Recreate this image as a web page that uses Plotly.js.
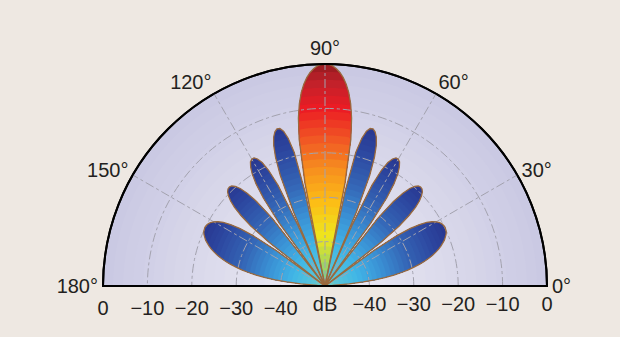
<!DOCTYPE html>
<html>
<head>
<meta charset="utf-8">
<script src="https://cdn.plot.ly/plotly-3.0.1.min.js"></script>
<style>
  html, body { margin: 0; padding: 0; background: #eee8e2; }
  #chart { width: 620px; height: 337px; }
</style>
</head>
<body>
<div id="chart"></div>
<script>
// ---- data (array pattern, dB, floor -50) ----
const thetaDeg = [
  0,1,2,3,4,5,6,7,8,9,10,11,12,13,14,15,16,17,18,19,20,21,22,23,24,25,26,27,28,29,30,31,32,33,34,35,36,36.9,
  38,39,40,41,42,43,44,45,46,47,48,49,50,51,52,53.1,
  54,55,56,57,58,59,60,61,62,63,64,65,66,66.4,
  67,68,69,70,71,72,73,74,75,76,77,78,78.5,
  79,80,81,82,83,84,85,86,87,88,89,90,91,92,93,94,95,96,97,98,99,100,101,101.5,
  102,103,104,105,106,107,108,109,110,111,112,113,113.6,
  114,115,116,117,118,119,120,121,122,123,124,125,126,126.9,
  128,129,130,131,132,133,134,135,136,137,138,139,140,141,142,143.1,
  144,145,146,147,148,149,150,151,152,153,154,155,156,157,158,159,160,161,162,163,164,165,166,167,168,169,170,171,172,173,174,175,176,177,178,179,180
];
const gainDb = [
  -50,-50,-50,-50,-48.3,-44.5,-41.3,-38.7,-36.4,-34.3,-32.5,-30.9,-29.5,-28.1,-26.9,-25.8,-24.8,-23.9,-23.1,-22.4,-21.8,-21.2,-20.8,-20.4,-20.1,-20.0,-19.9,-20.0,-20.2,-20.5,-21.1,-21.9,-23.0,-24.6,-26.8,-30.2,-36.6,-50,
  -34.1,-28.5,-25.3,-23.0,-21.4,-20.3,-19.5,-19.1,-19.0,-19.2,-19.8,-20.9,-22.7,-25.5,-30.6,-50,
  -32.4,-25.8,-22.2,-19.9,-18.4,-17.4,-17.0,-17.0,-17.6,-18.8,-21.0,-25.0,-35.0,-50,
  -32.0,-23.1,-18.9,-16.2,-14.5,-13.5,-13.0,-13.1,-13.9,-15.7,-19.1,-28.3,-50,
  -26.3,-16.5,-11.7,-8.5,-6.1,-4.3,-2.9,-1.8,-1.0,-0.4,-0.1,0,-0.1,-0.4,-1.0,-1.8,-2.9,-4.3,-6.1,-8.5,-11.7,-16.5,-26.3,-50,
  -28.3,-19.1,-15.7,-13.9,-13.1,-13.0,-13.5,-14.5,-16.2,-18.9,-23.1,-32.0,-50,
  -35.0,-25.0,-21.0,-18.8,-17.6,-17.0,-17.0,-17.4,-18.4,-19.9,-22.2,-25.8,-32.4,-50,
  -30.6,-25.5,-22.7,-20.9,-19.8,-19.2,-19.0,-19.1,-19.5,-20.3,-21.4,-23.0,-25.3,-28.5,-34.1,-50,
  -36.6,-30.2,-26.8,-24.6,-23.0,-21.9,-21.1,-20.5,-20.2,-20.0,-19.9,-20.0,-20.1,-20.4,-20.8,-21.2,-21.8,-22.4,-23.1,-23.9,-24.8,-25.8,-26.9,-28.1,-29.5,-30.9,-32.5,-34.3,-36.4,-38.7,-41.3,-44.5,-48.3,-50,-50,-50,-50
];
const nullAngles = [0, 36.9, 53.1, 66.4, 78.5, 101.5, 113.6, 126.9, 143.1, 180];
const radialTicks = [-50, -40, -30, -20, -10, 0];
const radialTickTextRight = ['dB', '\u221240', '\u221230', '\u221220', '\u221210', '0'];
const radialTickTextLeft  = ['', '\u221240', '\u221230', '\u221220', '\u221210', '0'];
const angleTicks = [0, 30, 60, 90, 120, 150, 180];
const angleTickText = ['0\u00b0', '30\u00b0', '60\u00b0', '90\u00b0', '120\u00b0', '150\u00b0', '180\u00b0'];
const gridAngles = [30, 60, 90, 120, 150];

// ---- styling ----
const R_MIN = -50, R_MAX = 0;
const mainStops = [
  [0.00, '#5fc4b4'], [0.10, '#a6d65a'], [0.22, '#eee61e'], [0.38, '#fcbd16'],
  [0.52, '#f7911e'], [0.65, '#f15d24'], [0.80, '#ec1c24'], [0.92, '#c0212b'], [1.00, '#951b1f']
];
const sideStops = [
  [0.00, '#7ccfb4'], [0.10, '#55c3da'], [0.25, '#41b6e7'], [0.45, '#3a8ed3'],
  [0.65, '#3463b4'], [0.85, '#2d47a0'], [1.00, '#283790']
];
function hex2rgb(h) { return [1,3,5].map(i => parseInt(h.substr(i, 2), 16)); }
function cmap(stops, t) {
  t = Math.max(0, Math.min(1, t));
  for (let i = 1; i < stops.length; i++) {
    if (t <= stops[i][0]) {
      const a = stops[i-1], b = stops[i];
      const f = (t - a[0]) / (b[0] - a[0]);
      const ca = hex2rgb(a[1]), cb = hex2rgb(b[1]);
      const c = ca.map((v, k) => Math.round(v + (cb[k] - v) * f));
      return 'rgb(' + c.join(',') + ')';
    }
  }
  return stops[stops.length-1][1];
}

const traces = [];

// background lavender gradient (rings)
const NB = 22;
for (let k = NB; k >= 1; k--) {
  const L = R_MIN + (R_MAX - R_MIN) * k / NB;
  const th = [], rr = [];
  for (let a = 0; a <= 180; a += 2) { th.push(a); rr.push(L); }
  th.push(0); rr.push(R_MIN);
  const t = k / NB;
  const c0 = hex2rgb('#ecebf4'), c1 = hex2rgb('#cac9e3');
  const f = Math.pow(t, 1.2);
  const c = c0.map((v, i) => Math.round(v + (c1[i] - v) * f));
  traces.push({
    type: 'scatterpolar', subplot: 'polar', mode: 'lines', theta: th, r: rr,
    fill: 'toself', fillcolor: 'rgb(' + c.join(',') + ')', line: { width: 0 },
    hoverinfo: 'skip', showlegend: false
  });
}

// lobes
const lobes = [];
for (let i = 0; i < nullAngles.length - 1; i++) {
  const a = nullAngles[i], b = nullAngles[i+1];
  const th = [], rr = [];
  thetaDeg.forEach((v, j) => { if (v >= a && v <= b) { th.push(v); rr.push(gainDb[j]); } });
  lobes.push({ th, rr, main: (a < 90 && b > 90) });
}
const NL = 28;
lobes.forEach(lb => {
  const peak = Math.max(...lb.rr);
  const stops = lb.main ? mainStops : sideStops;
  for (let k = NL; k >= 1; k--) {
    const L = R_MIN + (peak - R_MIN) * k / NL;
    traces.push({
      type: 'scatterpolar', subplot: 'polar', mode: 'lines',
      theta: lb.th.concat([lb.th[0]]),
      r: lb.rr.map(v => Math.min(v, L)).concat([R_MIN]),
      fill: 'toself', fillcolor: cmap(stops, (k - 0.5) / NL),
      line: { width: 0 }, hoverinfo: 'skip', showlegend: false
    });
  }
});
// lobe outlines (on the overlay subplot, above grid)
lobes.forEach(lb => {
  traces.push({
    type: 'scatterpolar', subplot: 'polar2', mode: 'lines',
    theta: lb.th, r: lb.rr,
    line: { color: '#9a6a3e', width: 1.3 }, hoverinfo: 'skip', showlegend: false
  });
});

const font = { family: 'Liberation Sans, Arial, Helvetica, sans-serif', size: 20, color: '#231f20' };
const layout = {
  width: 620, height: 337,
  margin: { l: 103, r: 73, t: 64, b: 51 },
  paper_bgcolor: '#eee8e2',
  showlegend: false,
  font: font,
  polar: {
    domain: { x: [0, 1], y: [0, 1] },
    sector: [0, 180],
    bgcolor: 'rgba(0,0,0,0)',
    radialaxis: {
      range: [R_MIN, R_MAX], angle: 0, side: 'clockwise', tickangle: 0,
      showline: true, linecolor: '#000', linewidth: 2,
      showgrid: false, ticks: '',
      tickvals: radialTicks, ticktext: radialTickTextRight, tickfont: font
    },
    angularaxis: {
      rotation: 0, direction: 'counterclockwise',
      showline: true, linecolor: '#000', linewidth: 2,
      showgrid: false, ticks: '',
      tickvals: angleTicks, ticktext: angleTickText, tickfont: font
    }
  },
  polar2: {
    domain: { x: [0, 1], y: [0, 1] },
    sector: [0, 180],
    bgcolor: 'rgba(0,0,0,0)',
    radialaxis: {
      range: [R_MIN, R_MAX], angle: 180, side: 'counterclockwise', tickangle: 180,
      showline: true, linecolor: '#000', linewidth: 2,
      showgrid: true, gridcolor: '#a3a2ae', gridwidth: 1, griddash: 'dashdot',
      ticks: '', tickvals: radialTicks, ticktext: radialTickTextLeft, tickfont: font
    },
    angularaxis: {
      rotation: 0, direction: 'counterclockwise',
      showline: true, linecolor: '#000', linewidth: 2,
      showgrid: true, gridcolor: '#a3a2ae', gridwidth: 1, griddash: 'dashdot',
      ticks: '', tickvals: gridAngles, showticklabels: false
    }
  }
};
Plotly.newPlot('chart', traces, layout, { displayModeBar: false, staticPlot: true });
</script>
</body>
</html>
